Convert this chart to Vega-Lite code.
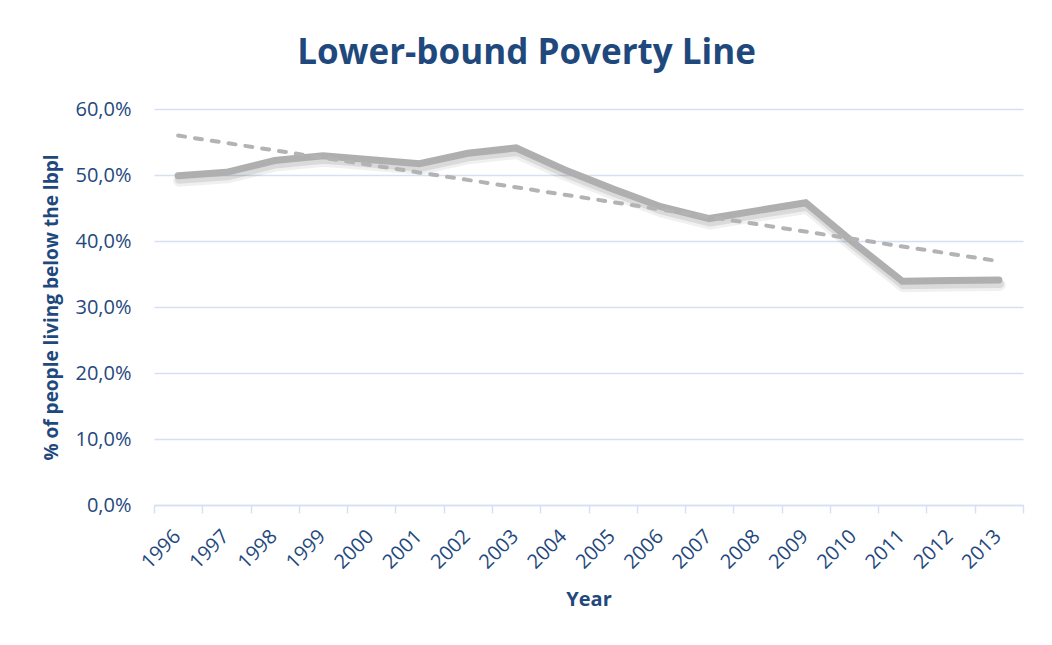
{
  "$schema": "https://vega.github.io/schema/vega-lite/v6.json",
  "autosize": "none",
  "width": 869,
  "height": 396,
  "padding": {"left": 154, "top": 109, "right": 29, "bottom": 140},
  "background": "white",
  "title": {
    "text": "Lower-bound Poverty Line",
    "fontSize": 35,
    "fontWeight": "bold",
    "color": "#1f497d",
    "anchor": "middle",
    "dx": -62,
    "baseline": "alphabetic",
    "offset": 0
  },
  "data": {
    "values": [
      {"year": 1996, "rate": 0.499},
      {"year": 1997, "rate": 0.504},
      {"year": 1998, "rate": 0.522},
      {"year": 1999, "rate": 0.529},
      {"year": 2000, "rate": 0.523},
      {"year": 2001, "rate": 0.517},
      {"year": 2002, "rate": 0.533},
      {"year": 2003, "rate": 0.541},
      {"year": 2004, "rate": 0.508},
      {"year": 2005, "rate": 0.479},
      {"year": 2006, "rate": 0.452},
      {"year": 2007, "rate": 0.434},
      {"year": 2008, "rate": 0.446},
      {"year": 2009, "rate": 0.458},
      {"year": 2010, "rate": 0.397},
      {"year": 2011, "rate": 0.339},
      {"year": 2012, "rate": 0.340},
      {"year": 2013, "rate": 0.341}
    ]
  },
  "encoding": {
    "x": {
      "field": "year",
      "type": "quantitative",
      "scale": {"domain": [1995.5, 2013.5], "nice": false, "zero": false},
      "axis": {
        "title": "Year",
        "titleFontSize": 20,
        "titleFontWeight": "bold",
        "titleColor": "#1f497d",
        "titlePadding": 17,
        "values": [1995.5, 1996.5, 1997.5, 1998.5, 1999.5, 2000.5, 2001.5, 2002.5, 2003.5, 2004.5, 2005.5, 2006.5, 2007.5, 2008.5, 2009.5, 2010.5, 2011.5, 2012.5, 2013.5],
        "labelExpr": "datum.value < 2013 ? format(datum.value + 0.5, 'd') : ''",
        "labelAngle": -45,
        "labelAlign": "right",
        "labelBaseline": "middle",
        "labelOffset": 23,
        "labelPadding": 20,
        "labelFontSize": 20,
        "labelColor": "#1f497d",
        "labelOverlap": false,
        "labelFlush": false,
        "labelBound": false,
        "grid": false,
        "ticks": true,
        "tickSize": 8,
        "tickColor": "#d5e0f1",
        "tickWidth": 1.5,
        "domainColor": "#d5e0f1",
        "domainWidth": 1.5
      }
    },
    "y": {
      "field": "rate",
      "type": "quantitative",
      "scale": {"domain": [0, 0.6], "nice": false},
      "axis": {
        "title": "% of people living below the lbpl",
        "titleFontSize": 19,
        "titleFontWeight": "bold",
        "titleColor": "#1f497d",
        "titlePadding": 13,
        "values": [0, 0.1, 0.2, 0.3, 0.4, 0.5, 0.6],
        "labelExpr": "replace(format(datum.value, '.1%'), '.', ',')",
        "labelFontSize": 20,
        "labelColor": "#1f497d",
        "labelPadding": 23,
        "ticks": false,
        "domain": false,
        "grid": true,
        "gridColor": "#d5e0f1",
        "gridWidth": 1.3
      }
    }
  },
  "layer": [
    {
      "mark": {"type": "line", "color": "#000000", "opacity": 0.06, "strokeWidth": 12, "yOffset": 5, "xOffset": 1, "strokeCap": "round", "strokeJoin": "round"}
    },
    {
      "mark": {"type": "line", "color": "#000000", "opacity": 0.09, "strokeWidth": 8, "yOffset": 4, "xOffset": 1, "strokeCap": "round", "strokeJoin": "round"}
    },
    {
      "mark": {"type": "line", "color": "#afafaf", "strokeWidth": 7, "strokeCap": "round", "strokeJoin": "miter"}
    },
    {
      "transform": [{"regression": "rate", "on": "year", "method": "linear"}],
      "mark": {"type": "line", "color": "#b3b3b3", "strokeWidth": 4, "strokeDash": [7, 10], "strokeCap": "round"}
    }
  ],
  "config": {
    "font": "Open Sans",
    "view": {"stroke": null}
  }
}
